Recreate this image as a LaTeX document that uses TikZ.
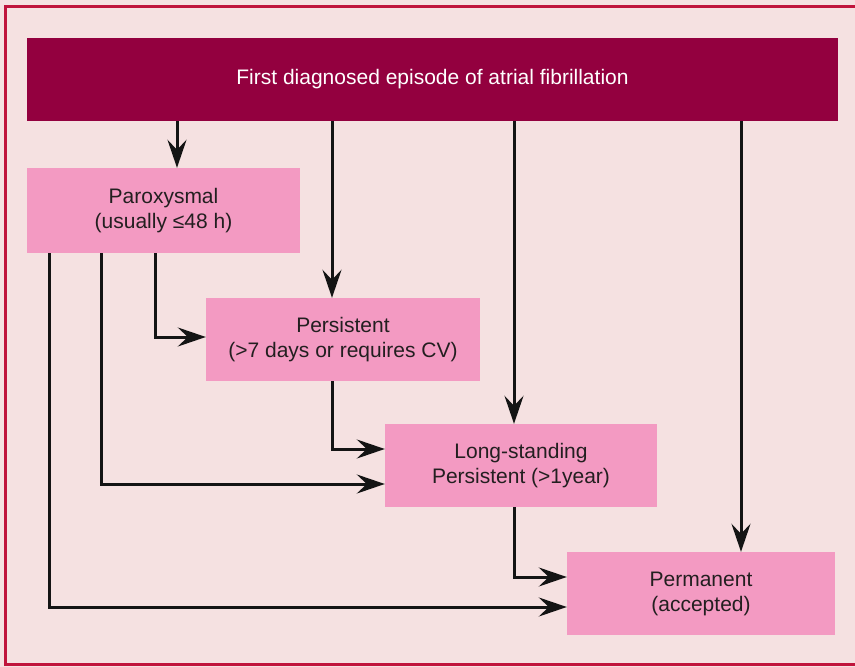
\documentclass[tikz,border=0pt]{standalone}
\usepackage{fontspec}
\setmainfont{Liberation Sans}
\usetikzlibrary{arrows.meta}
\definecolor{bgpink}{HTML}{F5E1E1}
\definecolor{boxpink}{HTML}{F39AC2}
\definecolor{wine}{HTML}{93003F}
\definecolor{framered}{HTML}{C0143C}
\definecolor{txt}{HTML}{231F20}
\begin{document}
\begin{tikzpicture}[x=1pt,y=-1pt,
  boxstyle/.style={fill=boxpink, draw=none, inner sep=0pt, font=\fontsize{21}{25}\selectfont, text=txt, align=center},
  arr/.style={draw=black!92, line width=3pt, -{Stealth[length=28pt,width=19pt,inset=10pt]}}]
\useasboundingbox (0,0) rectangle (855,667);
\fill[bgpink] (0,0) rectangle (855,667);
\draw[framered, line width=3pt] (855,6) -- (5,6) -- (5,664) -- (855,664);
\node[fill=wine, minimum width=811pt, minimum height=83pt, inner sep=0pt, text=white, font=\fontsize{21}{25}\selectfont] (top) at (432.5,79.5) {First diagnosed episode of atrial fibrillation};
\node[boxstyle, minimum width=273pt, minimum height=85pt] (par) at (163.5,210.5) {Paroxysmal\\(usually ≤48 h)};
\node[boxstyle, minimum width=274pt, minimum height=83pt] (pers) at (343,339.5) {Persistent\\(>7 days or requires CV)};
\node[boxstyle, minimum width=272pt, minimum height=83pt] (long) at (521,465.5) {Long-standing\\Persistent (>1year)};
\node[boxstyle, minimum width=268pt, minimum height=83pt] (perm) at (701,593.5) {Permanent\\(accepted)};
% top arrows
\draw[arr] (top.south -| 177,0) -- (par.north -| 177,0);
\draw[arr] (top.south -| 332,0) -- (pers.north -| 332,0);
\draw[arr] (top.south -| 514,0) -- (long.north -| 514,0);
\draw[arr] (top.south -| 741,0) -- (perm.north -| 741,0);
% elbow arrows
\coordinate (a1) at (155,337);
\draw[arr] (par.south -| a1) |- (pers.west |- a1);
\coordinate (a2) at (101,484);
\draw[arr] (par.south -| a2) |- (long.west |- a2);
\coordinate (a3) at (49,607);
\draw[arr] (par.south -| a3) |- (perm.west |- a3);
\coordinate (a4) at (332,449);
\draw[arr] (pers.south -| a4) |- (long.west |- a4);
\coordinate (a5) at (514,577);
\draw[arr] (long.south -| a5) |- (perm.west |- a5);
\end{tikzpicture}
\end{document}
